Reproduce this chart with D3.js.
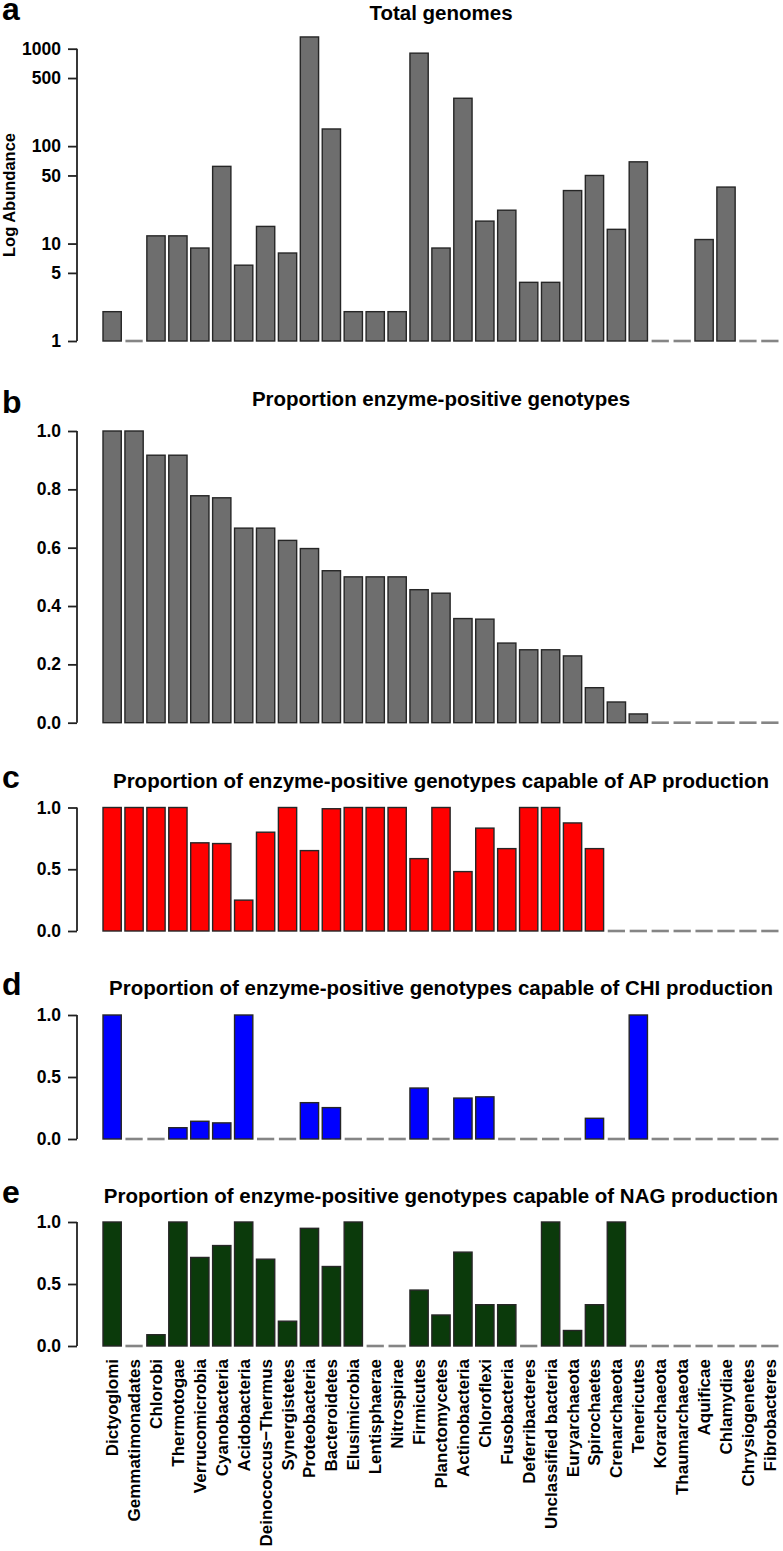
<!DOCTYPE html>
<html><head><meta charset="utf-8">
<script src="https://cdn.jsdelivr.net/npm/d3@7"></script>
<style>
body{margin:0;background:#fff}
text{font-family:"Liberation Sans",Arial,Helvetica,sans-serif;font-weight:bold;fill:#000}
</style>
</head><body>
<svg id="chart" width="783" height="1551"></svg>
<script>
// ---------- DATA ----------
const categories = ["Dictyoglomi","Gemmatimonadates","Chlorobi","Thermotogae","Verrucomicrobia","Cyanobacteria","Acidobacteria","Deinococcus\u2212Thermus","Synergistetes","Proteobacteria","Bacteroidetes","Elusimicrobia","Lentisphaerae","Nitrospirae","Firmicutes","Planctomycetes","Actinobacteria","Chloroflexi","Fusobacteria","Deferribacteres","Unclassified bacteria","Euryarchaeota","Spirochaetes","Crenarchaeota","Tenericutes","Korarchaeota","Thaumarchaeota","Aquificae","Chlamydiae","Chrysiogenetes","Fibrobacteres"];
const totalGenomes = [2,1,12,12,9,62,6,15,8,1320,150,2,2,2,900,9,310,17,22,4,4,35,50,14,69,1,1,11,38,1,1];
const propPositive = [1.0,1.0,0.917,0.917,0.778,0.771,0.667,0.667,0.625,0.597,0.521,0.5,0.5,0.5,0.456,0.444,0.357,0.355,0.273,0.25,0.25,0.229,0.12,0.071,0.03,0,0,0,0,0,0];
const propAP = [1.0,1.0,1.0,1.0,0.714,0.708,0.25,0.8,1.0,0.651,0.99,1.0,1.0,1.0,0.586,1.0,0.481,0.833,0.667,1.0,1.0,0.875,0.667,0,0,0,0,0,0,0,0];
const propCHI = [1.0,0,0,0.091,0.143,0.13,1.0,0,0,0.293,0.253,0,0,0,0.411,0,0.33,0.34,0,0,0,0,0.167,0,1.0,0,0,0,0,0,0];
const propNAG = [1.0,0,0.091,1.0,0.714,0.81,1.0,0.7,0.2,0.949,0.641,1.0,0,0,0.451,0.25,0.757,0.333,0.333,0,1.0,0.125,0.333,1.0,0,0,0,0,0,0,0];
const logTicks = [1,5,10,50,100,500,1000];
const propTicksB = [0,0.2,0.4,0.6,0.8,1.0];
const propTicksCDE = [0,0.5,1.0];
const panelTitles = ["Total genomes","Proportion enzyme-positive genotypes","Proportion of enzyme-positive genotypes capable of AP production","Proportion of enzyme-positive genotypes capable of CHI production","Proportion of enzyme-positive genotypes capable of NAG production"];
const panelLetters = ["a","b","c","d","e"];
const yAxisLabel = "Log Abundance";

// ---------- LAYOUT ----------
const W = 783, H = 1551;
const svg = d3.select("#chart");
svg.append("rect").attr("width", W).attr("height", H).attr("fill", "#fff");

const x = d3.scaleBand().domain(categories).range([103, 779]).paddingInner(1/6).paddingOuter(0);
const axisX = 77, plotCx = 441;
const fmt1 = d3.format(".1f");

const panels = [
  {values: totalGenomes, base: 1, scale: d3.scaleLog().domain([1,1000]).range([341,48.7]), ticks: logTicks, fmt: d3.format("d"), fill: "#6e6e6e", titleY: 20, letterY: 20},
  {values: propPositive, base: 0, scale: d3.scaleLinear().domain([0,1]).range([722.7,431]), ticks: propTicksB, fmt: fmt1, fill: "#6e6e6e", titleY: 406, letterY: 413},
  {values: propAP, base: 0, scale: d3.scaleLinear().domain([0,1]).range([931,807.5]), ticks: propTicksCDE, fmt: fmt1, fill: "#ff0000", titleY: 788, letterY: 788},
  {values: propCHI, base: 0, scale: d3.scaleLinear().domain([0,1]).range([1139,1015]), ticks: propTicksCDE, fmt: fmt1, fill: "#0000ff", titleY: 995, letterY: 995},
  {values: propNAG, base: 0, scale: d3.scaleLinear().domain([0,1]).range([1346,1222]), ticks: propTicksCDE, fmt: fmt1, fill: "#0b3a0b", titleY: 1203, letterY: 1203}
];

panels.forEach((p, i) => {
  const g = svg.append("g");
  const data = categories.map((c, j) => ({c, v: p.values[j]}));
  const y0 = p.scale(p.base);

  // bars
  g.selectAll("rect.bar").data(data.filter(d => d.v > p.base)).join("rect")
    .attr("class", "bar")
    .attr("x", d => x(d.c))
    .attr("width", x.bandwidth())
    .attr("y", d => p.scale(d.v))
    .attr("height", d => y0 - p.scale(d.v))
    .attr("fill", p.fill)
    .attr("stroke", "#262626")
    .attr("stroke-width", 1.4);

  // zero-height bars drawn as dashes
  g.selectAll("line.zero").data(data.filter(d => d.v <= p.base)).join("line")
    .attr("class", "zero")
    .attr("x1", d => x(d.c) + 0.5)
    .attr("x2", d => x(d.c) + x.bandwidth() - 0.5)
    .attr("y1", y0).attr("y2", y0)
    .attr("stroke", "#858585")
    .attr("stroke-width", 2.6);

  // y axis
  const ax = g.append("g").attr("transform", `translate(${axisX},0)`)
    .call(d3.axisLeft(p.scale).tickValues(p.ticks).tickFormat(p.fmt).tickSize(9).tickSizeOuter(0).tickPadding(7));
  ax.select(".domain").attr("stroke", "#222").attr("stroke-width", 1.8)
    .attr("d", `M0,${p.scale(p.ticks[0])}V${p.scale(p.ticks[p.ticks.length-1])}`);
  ax.selectAll(".tick line").attr("stroke", "#222").attr("stroke-width", 1.8);
  ax.selectAll(".tick text").attr("fill", "#000").style("font-size", "17.5px")
    .style("font-family", '"Liberation Sans",Arial,sans-serif').style("font-weight", "bold");

  // title & letter
  g.append("text").attr("x", plotCx).attr("y", p.titleY).attr("text-anchor", "middle")
    .style("font-size", "20.5px").text(panelTitles[i]);
  g.append("text").attr("x", 2).attr("y", p.letterY)
    .style("font-size", "32px").text(panelLetters[i]);
});

// y-axis label for panel a
svg.append("text").attr("transform", "translate(15,195) rotate(-90)")
  .attr("text-anchor", "middle").style("font-size", "16.5px").text(yAxisLabel);

// category labels under panel e
const catAxis = svg.append("g").attr("transform", "translate(0,1346)")
  .call(d3.axisBottom(x).tickSize(0).tickSizeOuter(0));
catAxis.select(".domain").remove();
catAxis.selectAll(".tick text")
  .attr("transform", "rotate(-90)")
  .attr("text-anchor", "end")
  .attr("x", -13).attr("y", 6).attr("dy", 0)
  .attr("fill", "#000")
  .style("font-size", "17px")
  .style("font-family", '"Liberation Sans",Arial,sans-serif').style("font-weight", "bold");
</script>
</body></html>
